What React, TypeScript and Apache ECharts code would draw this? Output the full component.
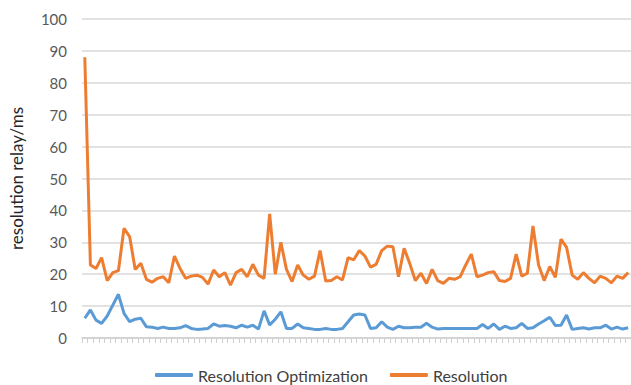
import React, { useEffect, useRef } from "react";
import * as echarts from "echarts";

const seriesNames = ["Resolution Optimization", "Resolution"];

const optimized = [
  6.2, 8.8, 5.6, 4.6, 6.9, 10.3, 13.7, 7.7, 5.1, 5.9, 6.2, 3.5, 3.4, 3.0, 3.4, 3.0, 3.0, 3.2, 3.9, 3.0,
  2.7, 2.8, 3.0, 4.4, 3.7, 3.9, 3.7, 3.2, 4.0, 3.4, 4.0, 2.8, 8.5,
  4.1, 5.9, 8.2, 3.0, 3.0, 4.4, 3.2, 3.0, 2.7, 2.7, 3.0, 2.7, 2.7, 3.0, 5.1, 7.2, 7.5, 7.2, 3.0, 3.2,
  5.1, 3.4, 2.7, 3.7, 3.2, 3.2, 3.4, 3.4, 4.6, 3.4, 2.8, 3.0,
  3.0, 3.0, 3.0, 3.0, 3.0, 3.0, 4.2, 3.0, 4.4, 2.7, 3.7, 3.0, 3.2, 4.6, 3.0, 3.2, 4.4, 5.4, 6.5, 3.9,
  4.0, 7.2, 2.7, 3.0, 3.2, 2.8, 3.2, 3.2, 4.0, 2.8, 3.4, 2.8, 3.2,
];

const resolution = [
  88, 22.9, 21.8, 25.2, 18, 20.5, 21.1, 34.4, 31.8, 21.5, 23.4, 18.4, 17.5, 18.7, 19.2, 17.3, 25.7, 21.8,
  18.7, 19.4, 19.7, 19, 16.9, 21.3, 19.2, 20.5, 16.6, 20.5, 21.5, 19.2, 23.1, 19.7, 18.7,
  38.9, 20, 30, 21.5, 17.7, 22.9, 19.7, 18.4, 19.4, 27.4, 17.9, 18, 19.2, 18.2, 25.2, 24.5, 27.4, 25.7,
  22.2, 23.1, 27.4, 28.8, 28.6, 19.2, 28.1, 23.4, 18, 20.3, 17.1, 21.5, 18, 17.1,
  18.7, 18.4, 19.2, 22.9, 26.3, 19.2, 19.7, 20.5, 20.8, 18, 17.7, 18.7, 26.3, 19.4, 20.3, 35.1, 22.9,
  18, 22.4, 19, 31, 28.4, 19.7, 18.4, 20.5, 18.7, 17.3, 19.4, 18.7, 17.3, 19.4, 18.7, 20.5,
];

const categories = resolution.map((_, i) => String(i + 1));

const yTicks = { min: 0, max: 100, interval: 10 };
const yAxisName = "resolution relay/ms";

export default function App() {
  const ref = useRef<HTMLDivElement>(null);
  useEffect(() => {
    if (!ref.current) return;
    const chart = echarts.init(ref.current, null, { renderer: "svg" });
    const font = "Lato, 'Open Sans', sans-serif";
    chart.setOption({
      animation: false,
      textStyle: { fontFamily: font },
      grid: { left: 82, right: 0, top: 19, bottom: 47, containLabel: false },
      legend: {
        data: seriesNames,
        left: 150,
        top: 362,
        padding: [5, 5, 5, 5],
        itemGap: 22,
        itemWidth: 38,
        itemHeight: 4,
        icon: "roundRect",
        textStyle: { color: "#404040", fontSize: 16, lineHeight: 16, fontFamily: font },
      },
      xAxis: {
        type: "category",
        data: categories,
        boundaryGap: true,
        axisLine: { lineStyle: { color: "#d0d0d0", width: 1.5 } },
        axisTick: { show: true, interval: 0, length: 5, lineStyle: { color: "#d0d0d0" } },
        axisLabel: { show: false },
      },
      yAxis: {
        type: "value",
        min: yTicks.min,
        max: yTicks.max,
        interval: yTicks.interval,
        name: yAxisName,
        nameLocation: "middle",
        nameGap: 57,
        nameTextStyle: { color: "#262626", fontSize: 17, fontFamily: font },
        axisLine: { show: false },
        axisTick: { show: false },
        axisLabel: { color: "#595959", fontSize: 15, margin: 15, fontFamily: font },
        splitLine: { lineStyle: { color: "#d9d9d9", width: 1.5 } },
      },
      series: [
        {
          name: seriesNames[0],
          type: "line",
          data: optimized,
          symbol: "none",
          lineStyle: { color: "#5B9BD5", width: 3 },
          itemStyle: { color: "#5B9BD5" },
        },
        {
          name: seriesNames[1],
          type: "line",
          data: resolution,
          symbol: "none",
          lineStyle: { color: "#ED7D31", width: 3 },
          itemStyle: { color: "#ED7D31" },
        },
      ],
    });
    return () => chart.dispose();
  }, []);
  return <div ref={ref} style={{ width: 631, height: 385, position: "absolute", left: 0, top: 0 }} />;
}
